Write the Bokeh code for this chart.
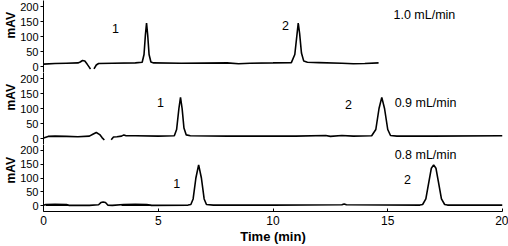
from bokeh.plotting import figure
from bokeh.layouts import column
from bokeh.models import Range1d, FixedTicker, Label, Title
from bokeh.embed import file_html
from bokeh.resources import INLINE

# ---- data (time in min, signal in mAV) ----
# 1.0 mL/min trace (two segments, gap near 2.1 min)
t1a = [0.0, 0.5, 1.0, 1.5, 1.6, 1.7, 1.8, 1.9, 2.0, 2.05]
s1a = [8, 10, 11, 12, 15, 20, 18, 8, -3, -8]
t1b = [2.2, 2.3, 2.4, 3.0, 4.0, 4.3, 4.38, 4.44, 4.49, 4.54, 4.6, 4.68, 4.8, 6.0, 8.0, 8.5, 9.0, 10.0,
       10.8, 10.95, 11.05, 11.1, 11.16, 11.24, 11.34, 11.5, 12.0, 13.0, 13.5, 14.0, 14.6]
s1b = [-8, 5, 10, 11, 12, 14, 40, 105, 145, 105, 40, 15, 12, 11, 12, 9, 11, 12,
       13, 40, 110, 145, 110, 45, 18, 14, 13, 11, 9, 10, 12]

# 0.9 mL/min trace
t2a = [0.0, 0.2, 0.5, 1.0, 1.5, 2.0, 2.15, 2.3, 2.45, 2.55, 2.65]
s2a = [2, 7, 8, 7, 6, 8, 14, 20, 13, 3, -5]
t2b = [2.95, 3.05, 3.2, 3.4, 3.5, 3.6, 4.0, 5.0, 5.7, 5.8, 5.9, 5.97, 6.04, 6.12, 6.22, 6.4, 8.0, 10.0,
       11.0, 12.3, 12.5, 13.0, 13.5, 14.3, 14.48, 14.62, 14.74, 14.86, 15.0, 15.12, 15.4, 17.0, 20.0]
s2b = [-4, 5, 6, 8, 12, 9, 9, 8, 9, 30, 100, 137, 100, 35, 12, 9, 8, 8,
       8, 10, 7, 10, 8, 9, 30, 100, 137, 100, 30, 10, 8, 8, 9]

# 0.8 mL/min trace
t3 = [0.0, 0.1, 0.5, 1.0, 1.1, 2.0, 2.4, 2.5, 2.6, 2.7, 2.8, 3.0, 3.5, 4.0, 4.5, 4.7, 6.3, 6.42, 6.52,
      6.64, 6.76, 6.88, 7.0, 7.1, 7.4, 10.0, 13.0, 13.1, 13.2, 16.4, 16.52, 16.66, 16.8, 16.9, 17.0,
      17.1, 17.2, 17.34, 17.48, 17.6, 20.0]
s3 = [2, 5, 6, 5, 2, 2, 4, 12, 14, 12, 3, 2, 5, 6, 5, 2, 3, 5, 25,
      100, 147, 100, 25, 5, 3, 3, 4, 7, 4, 3, 5, 25, 90, 135, 147,
      135, 90, 25, 5, 3, 3]
t3u = [0.1, 1.1, float("nan"), 3.4, 4.7]
s3u = [2, 2, float("nan"), 2, 2]

y_ticks = [0, 50, 100, 150, 200]
x_ticks = [0, 5, 10, 15, 20]
flow_labels = ["1.0 mL/min", "0.9 mL/min", "0.8 mL/min"]

FONT = "Liberation Sans"
W = 508
x_range = Range1d(0, 20)


def make_panel(height, bottom_border, show_x, title_offset):
    p = figure(width=W, height=height, x_range=x_range, y_range=Range1d(-20, 220),
               output_backend="svg", toolbar_location=None,
               min_border_left=43, min_border_right=6, min_border_top=0,
               min_border_bottom=bottom_border)
    p.outline_line_color = None
    p.grid.visible = False
    p.background_fill_color = "white"
    p.border_fill_color = "white"
    ya = p.yaxis[0]
    ya.ticker = FixedTicker(ticks=y_ticks)
    ya.major_tick_out = 3
    ya.major_tick_in = 0
    ya.minor_tick_line_color = None
    ya.major_label_text_font = FONT
    ya.major_label_text_font_size = "11px"
    ya.major_label_text_color = "black"
    ya.major_label_standoff = 2
    ya.axis_line_color = "black"
    ya.major_tick_line_color = "black"
    xa = p.xaxis[0]
    if show_x:
        xa.ticker = FixedTicker(ticks=x_ticks)
        xa.major_tick_in = 3
        xa.major_tick_out = 0
        xa.minor_tick_line_color = None
        xa.major_label_text_font = FONT
        xa.major_label_text_font_size = "12px"
        xa.major_label_text_color = "black"
        xa.major_label_standoff = 4
        xa.axis_line_color = "black"
        xa.axis_label = "Time (min)"
        xa.axis_label_text_font = FONT
        xa.axis_label_text_font_size = "13px"
        xa.axis_label_text_font_style = "bold"
        xa.axis_label_text_color = "black"
        xa.axis_label_standoff = 1
    else:
        xa.visible = False
    p.add_layout(Title(text="mAV", align="left", offset=title_offset, standoff=0,
                       text_font=FONT, text_font_size="12px", text_font_style="bold",
                       text_color="black"), "left")
    return p


def add_text(p, x, y, txt, align="center"):
    p.add_layout(Label(x=x, y=y, text=txt, text_align=align, text_baseline="middle",
                       text_font=FONT, text_font_size="12.5px", text_color="black"))


lw = 1.6
p1 = make_panel(72, 0, False, 34)
p1.line(t1a, s1a, line_color="black", line_width=lw)
p1.line(t1b, s1b, line_color="black", line_width=lw)
add_text(p1, 3.14, 127, "1")
add_text(p1, 10.54, 137, "2")
add_text(p1, 15.25, 173, flow_labels[0], "left")

p2 = make_panel(72, 0, False, 34)
p2.line(t2a, s2a, line_color="black", line_width=lw)
p2.line(t2b, s2b, line_color="black", line_width=lw)
add_text(p2, 5.1, 120, "1")
add_text(p2, 13.29, 113, "2")
add_text(p2, 15.3, 117, flow_labels[1], "left")

p3 = make_panel(102, 30, True, 28)
p3.line(t3, s3, line_color="black", line_width=lw)
p3.line(t3u, s3u, line_color="black", line_width=1.2)
add_text(p3, 5.8, 80, "1")
add_text(p3, 15.86, 93, "2")
add_text(p3, 15.3, 183, flow_labels[2], "left")

layout = column(p1, p2, p3, spacing=0)
open("out.html", "w").write(file_html(layout, INLINE))
